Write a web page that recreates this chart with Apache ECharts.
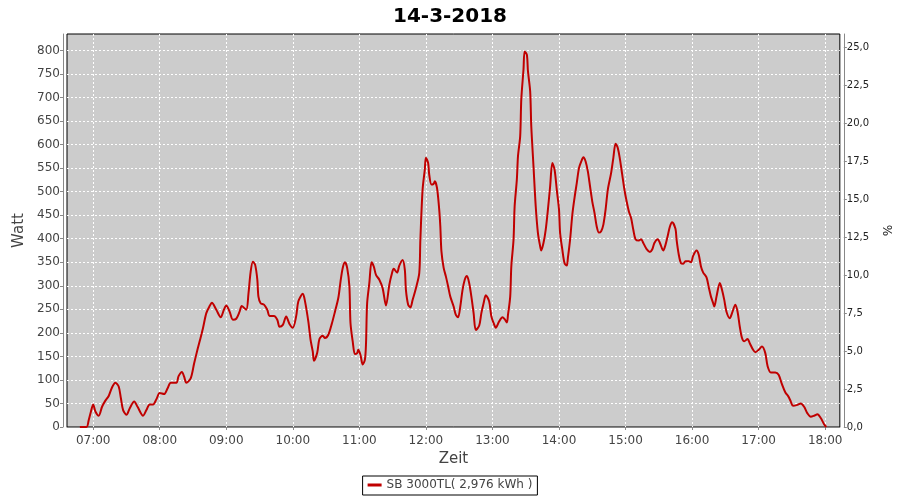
<!DOCTYPE html>
<html>
<head>
<meta charset="utf-8">
<script src="https://cdn.jsdelivr.net/npm/echarts@6/dist/echarts.min.js"></script>
<style>html,body{margin:0;padding:0;background:#fff}#c{width:900px;height:500px}</style>
</head>
<body>
<div id="c"></div>
<script>
const titleText = '14-3-2018';
const seriesName = 'SB 3000TL( 2,976 kWh )';
const times = ['06:48','06:54','06:56','06:58','07:00','07:02','07:05','07:08','07:11','07:14','07:17','07:20','07:23','07:25','07:27','07:30','07:33','07:37','07:40','07:45','07:48','07:51','07:54','07:57','08:00','08:04','08:07','08:10','08:15','08:17','08:20','08:22','08:24','08:28','08:31','08:34','08:36','08:39','08:42','08:45','08:47','08:51','08:55','08:58','09:00','09:03','09:06','09:09','09:12','09:14','09:18','09:20','09:22','09:24','09:26','09:28','09:29','09:31','09:34','09:37','09:39','09:43','09:46','09:48','09:51','09:54','09:57','10:00','10:03','10:05','10:09','10:11','10:14','10:16','10:18','10:19','10:22','10:24','10:27','10:29','10:32','10:35','10:38','10:41','10:43','10:45','10:47','10:49','10:51','10:52','10:54','10:56','10:58','10:59','11:01','11:03','11:05','11:06','11:07','11:09','11:11','11:13','11:15','11:18','11:21','11:24','11:27','11:29','11:31','11:34','11:36','11:39','11:41','11:42','11:44','11:46','11:48','11:51','11:54','11:55','11:57','11:59','12:00','12:02','12:03','12:05','12:07','12:08','12:10','12:12','12:13','12:14','12:16','12:18','12:20','12:22','12:25','12:27','12:29','12:31','12:33','12:35','12:37','12:39','12:41','12:43','12:45','12:48','12:50','12:52','12:54','12:57','12:59','13:01','13:03','13:06','13:09','13:11','13:13','13:14','13:16','13:17','13:19','13:20','13:22','13:23','13:25','13:26','13:28','13:29','13:31','13:32','13:34','13:35','13:37','13:39','13:41','13:43','13:44','13:46','13:48','13:50','13:52','13:54','13:56','13:58','14:00','14:01','14:03','14:05','14:07','14:08','14:10','14:12','14:14','14:16','14:18','14:20','14:22','14:24','14:26','14:28','14:30','14:32','14:34','14:36','14:38','14:40','14:42','14:44','14:47','14:49','14:51','14:53','14:55','14:57','14:59','15:01','15:03','15:05','15:07','15:09','15:12','15:14','15:16','15:19','15:22','15:24','15:26','15:29','15:31','15:34','15:36','15:38','15:40','15:42','15:45','15:46','15:48','15:50','15:52','15:54','15:57','15:59','16:01','16:04','16:06','16:08','16:10','16:13','16:15','16:17','16:19','16:20','16:22','16:25','16:27','16:29','16:31','16:34','16:36','16:39','16:41','16:43','16:45','16:47','16:50','16:52','16:55','16:57','17:00','17:03','17:06','17:08','17:11','17:15','17:18','17:21','17:24','17:27','17:29','17:31','17:35','17:38','17:41','17:44','17:47','17:50','17:53','17:56','17:59','18:01'];
const watts = [0,0,15,33,48,33,24,43,56,66,84,94,86,61,36,26,40,54,43,24,36,48,48,59,72,70,82,94,94,108,117,107,94,104,135,164,182,210,242,257,264,249,233,250,258,245,228,230,245,257,249,283,330,351,345,313,277,263,260,249,236,236,228,213,217,235,219,211,235,267,283,267,224,185,160,141,158,187,194,189,196,218,245,274,309,338,350,338,299,221,182,155,157,164,153,133,143,178,263,306,350,341,323,313,295,258,302,323,336,328,343,355,334,291,260,254,270,295,327,398,504,547,572,561,536,515,517,522,508,462,426,373,338,320,299,277,256,238,233,256,291,313,321,306,277,242,206,215,242,263,280,267,235,221,211,224,233,229,222,238,277,341,398,469,526,575,618,696,760,798,791,756,713,639,554,469,412,384,375,391,419,462,511,561,547,504,462,412,377,348,343,359,398,451,487,518,550,564,573,564,543,511,479,455,426,413,416,430,462,504,540,572,602,593,568,536,504,479,458,444,419,399,396,399,391,378,372,377,391,399,391,375,387,406,426,435,421,398,366,348,347,352,352,350,364,375,366,341,328,318,297,277,263,256,277,306,291,270,245,231,242,260,245,213,189,182,187,178,164,159,164,171,157,130,116,116,111,91,74,64,54,45,47,50,43,29,22,24,27,19,6,0];
const xMinTime = '06:36:24';
const xMaxTime = '18:13:12';
const leftMax = 835;
const rightMax = 25.85;

function ts(s) {
  const p = s.split(':').map(Number);
  return Date.UTC(2018, 2, 14, p[0], p[1], p[2] || 0);
}
const data = times.map((t, i) => [ts(t), watts[i]]);

const chart = echarts.init(document.getElementById('c'), null, {renderer: 'canvas'});
const font = 'DejaVu Sans';
chart.setOption({
  animation: false,
  useUTC: true,
  backgroundColor: '#ffffff',
  title: {
    text: titleText, left: 'center', top: 2,
    textStyle: {fontFamily: font, fontSize: 20, fontWeight: 'bold', color: '#000'}
  },
  legend: {
    data: [{name: seriesName, icon: 'rect'}],
    left: 'center', top: 476,
    itemWidth: 14, itemHeight: 3, itemGap: 5,
    padding: [3, 5, 4, 5],
    borderColor: '#000', borderWidth: 1, backgroundColor: '#fff',
    textStyle: {fontFamily: font, fontSize: 12, color: '#444'}
  },
  grid: {
    left: 67, right: 52, top: 34, bottom: 73,
    show: true, backgroundColor: '#cccccc', borderColor: '#000', borderWidth: 1
  },
  xAxis: {
    type: 'time', min: ts(xMinTime), max: ts(xMaxTime),
    minInterval: 3600000, maxInterval: 3600000,
    offset: 4,
    name: 'Zeit', nameLocation: 'middle', nameGap: 20,
    nameTextStyle: {fontFamily: font, fontSize: 15, color: '#444'},
    axisLine: {show: true, lineStyle: {color: '#888', width: 1}},
    axisTick: {show: true, length: 3, lineStyle: {color: '#888'}},
    axisLabel: {formatter: '{HH}:{mm}', fontFamily: font, fontSize: 12, color: '#444', margin: 4, hideOverlap: false},
    splitLine: {show: true, showMinLine: false, showMaxLine: false, lineStyle: {color: '#fff', type: [2, 2], width: 1}}
  },
  yAxis: [{
    type: 'value', min: 0, max: leftMax, interval: 50, position: 'left', offset: 4,
    name: 'Watt', nameLocation: 'middle', nameGap: 28,
    nameTextStyle: {fontFamily: font, fontSize: 15, color: '#444'},
    axisLine: {show: true, lineStyle: {color: '#888', width: 1}},
    axisTick: {show: true, length: 3, lineStyle: {color: '#888'}},
    axisLabel: {fontFamily: font, fontSize: 12, color: '#444', margin: 3, showMaxLabel: false},
    splitLine: {show: true, showMinLine: false, showMaxLine: false, lineStyle: {color: '#fff', type: [2, 2], width: 1}}
  }, {
    type: 'value', min: 0, max: rightMax, interval: 2.5, position: 'right', offset: 4,
    name: '%', nameLocation: 'middle', nameGap: 33, nameRotate: -90,
    nameTextStyle: {fontFamily: font, fontSize: 12, color: '#222'},
    axisLine: {show: true, lineStyle: {color: '#888', width: 1}},
    axisTick: {show: true, length: 3, lineStyle: {color: '#888'}},
    axisLabel: {fontFamily: font, fontSize: 10, color: '#222', margin: 3, showMaxLabel: false,
      formatter: v => v.toFixed(1).replace('.', ',')},
    splitLine: {show: false}
  }],
  series: [{
    name: seriesName, type: 'line', data: data, yAxisIndex: 0,
    showSymbol: false, smooth: 0.3,
    lineStyle: {color: '#c00000', width: 2},
    itemStyle: {color: '#c00000'}
  }]
});
</script>
</body>
</html>
